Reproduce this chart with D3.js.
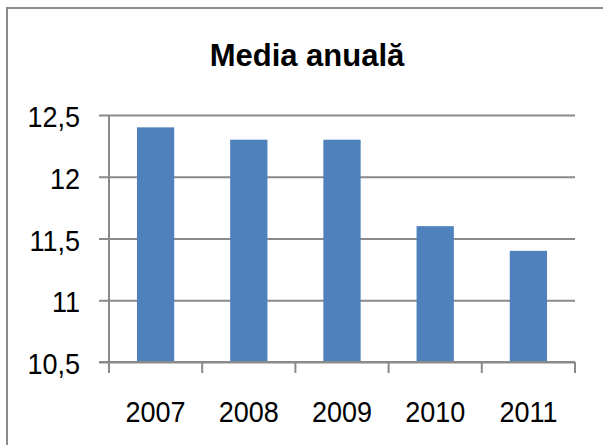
<!DOCTYPE html>
<html>
<head>
<meta charset="utf-8">
<script src="https://cdn.jsdelivr.net/npm/d3@7"></script>
<style>
  html, body { margin: 0; padding: 0; background: #fff; }
  svg { display: block; }
  text { font-family: "Liberation Sans", Arial, sans-serif; fill: #000; }
</style>
</head>
<body>
<div id="chart"></div>
<script>
const title = "Media anuală";
const years = ["2007", "2008", "2009", "2010", "2011"];
const values = [12.4, 12.3, 12.3, 11.6, 11.4];
const yTicks = [10.5, 11, 11.5, 12, 12.5];
const yTickLabels = ["10,5", "11", "11,5", "12", "12,5"];

const W = 603, H = 445;
const svg = d3.select("#chart").append("svg").attr("width", W).attr("height", H);

const plotLeft = 109, plotRight = 575, plotTop = 115, plotBottom = 362;
const x = d3.scaleBand().domain(years).range([plotLeft, plotRight]).padding(0);
const y = d3.scaleLinear().domain([10.5, 12.5]).range([plotBottom, plotTop]);

const gridColor = "#8a8a8a";

// outer chart border (top + left visible)
svg.append("line").attr("x1", 7).attr("x2", W).attr("y1", 8).attr("y2", 8)
  .attr("stroke", "#8c8c8c").attr("stroke-width", 2);
svg.append("line").attr("x1", 7).attr("x2", 7).attr("y1", 7).attr("y2", H)
  .attr("stroke", "#8c8c8c").attr("stroke-width", 2);

// title
svg.append("text").attr("x", 307).attr("y", 66).attr("text-anchor", "middle")
  .style("font-weight", "bold").style("font-size", "31px").text(title);

// gridlines + left ticks
const yAxis = d3.axisLeft(y).tickValues(yTicks).tickSize(plotRight - plotLeft + 10).tickSizeOuter(0).tickFormat("");
const gy = svg.append("g").attr("transform", `translate(${plotRight},0)`).call(yAxis);
gy.select(".domain").remove();
gy.selectAll(".tick line").attr("stroke", gridColor).attr("stroke-width", 2);

// y labels
svg.append("g").selectAll("text").data(yTicks).join("text")
  .attr("transform", (d) => `translate(80,${y(d) + 12}) scale(0.9,1)`)
  .attr("text-anchor", "end").style("font-size", "30px")
  .text((d, i) => yTickLabels[i]);

// bars
const step = x.step();
svg.append("g").selectAll("rect").data(values).join("rect")
  .attr("x", (d, i) => x(years[i]) + step * 0.3)
  .attr("width", step * 0.4)
  .attr("y", (d) => y(d))
  .attr("height", (d) => y(10.5) - y(d))
  .attr("fill", "#4f81bd");

// y axis line
svg.append("line").attr("x1", plotLeft).attr("x2", plotLeft)
  .attr("y1", y(12.5)).attr("y2", plotBottom)
  .attr("stroke", gridColor).attr("stroke-width", 2);

// x axis line and boundary ticks
svg.append("line").attr("x1", plotLeft - 10).attr("x2", plotRight)
  .attr("y1", plotBottom).attr("y2", plotBottom)
  .attr("stroke", gridColor).attr("stroke-width", 2);
const bounds = years.map(d => x(d)).concat([x(years[years.length - 1]) + step]);
svg.append("g").selectAll("line").data(bounds).join("line")
  .attr("x1", d => d).attr("x2", d => d)
  .attr("y1", plotBottom).attr("y2", plotBottom + 11)
  .attr("stroke", gridColor).attr("stroke-width", 2);

// x labels
svg.append("g").selectAll("text").data(years).join("text")
  .attr("transform", (d) => `translate(${x(d) + step / 2},421.5) scale(0.9,1)`)
  .attr("text-anchor", "middle").style("font-size", "30px")
  .text(d => d);
</script>
</body>
</html>
